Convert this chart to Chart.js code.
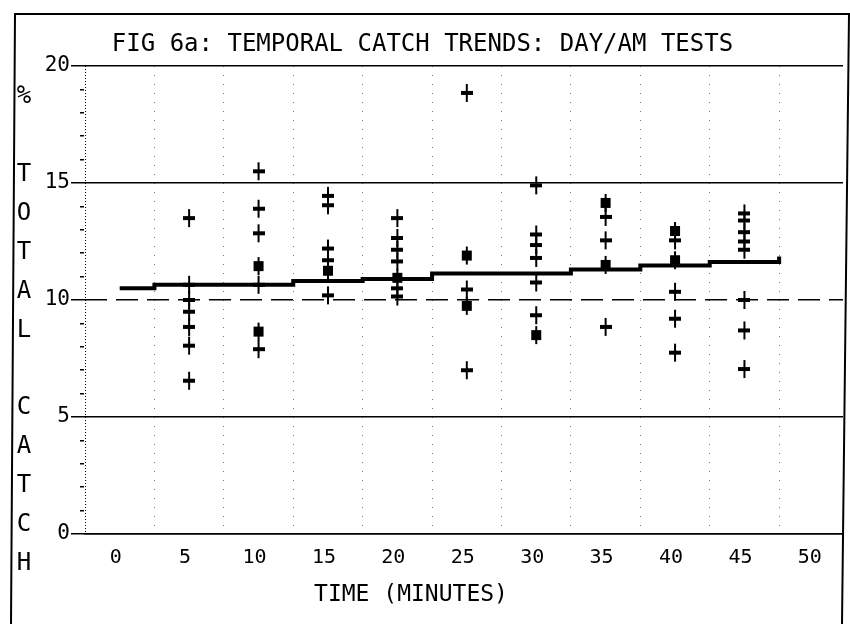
<!DOCTYPE html>
<html>
<head>
<meta charset="utf-8">
<title>Temporal catch trends</title>
<script src="https://cdn.jsdelivr.net/npm/chart.js@4/dist/chart.umd.min.js"></script>
<style>
  html, body { margin: 0; padding: 0; background: #fff; }
</style>
</head>
<body>
<canvas id="catch-graphic" width="850" height="624"></canvas>
<script>
// Time of each test group (minutes)
const times = [5, 10, 15, 20, 25, 30, 35, 40, 45];

// Single catches, one list per time
const plusCatch = [
  [13.5, 10.65, 10.0, 9.5, 8.85, 8.05, 6.55],
  [15.5, 13.9, 12.85, 10.65, 7.9],
  [14.45, 14.05, 12.2, 11.7, 10.2],
  [13.5, 12.65, 12.15, 11.65, 10.5, 10.15],
  [18.85, 10.45, 7.0],
  [14.9, 12.8, 12.35, 11.8, 10.75, 9.35],
  [13.55, 12.55, 8.85],
  [12.55, 10.35, 9.2, 7.75],
  [13.7, 13.4, 12.9, 12.5, 12.15, 10.0, 8.7, 7.05]
];

// Overlapping catches (drawn as filled blocks)
const blockCatch = [
  [],
  [11.45, 8.65],
  [11.25],
  [10.95],
  [11.9, 9.75],
  [8.5],
  [14.15, 11.5],
  [12.95, 11.7],
  []
];

// Stepped trend line
const trendTimes = [0, 5, 10, 15, 20, 25, 30, 35, 40, 45, 47.5, 47.5];
const trendCatch = [10.5, 10.65, 10.65, 10.81, 10.9, 11.13, 11.13, 11.3, 11.47, 11.62, 11.62, 11.86];

// Axis ticks
const xTicks = [0, 5, 10, 15, 20, 25, 30, 35, 40, 45, 50];
const yTicks = [0, 1, 2, 3, 4, 5, 6, 7, 8, 9, 10, 11, 12, 13, 14, 15, 16, 17, 18, 19, 20];

const FONT = 'DejaVu Sans Mono';
Chart.defaults.font.family = FONT;
Chart.defaults.color = '#000';

// Plotter style marks: tall cross, and block with the same vertical arm
function makeMark(block) {
  const c = document.createElement('canvas');
  c.width = 12;
  c.height = 20;
  const g = c.getContext('2d');
  g.fillStyle = '#000';
  g.fillRect(5, 1, 2, 18);
  if (block) {
    g.fillRect(1, 5, 10, 10);
  } else {
    g.fillRect(0, 8, 12, 4);
  }
  return c;
}

const plusPoints = [];
const blockPoints = [];
times.forEach((t, i) => {
  plusCatch[i].forEach(v => plusPoints.push({ x: t, y: v }));
  blockCatch[i].forEach(v => blockPoints.push({ x: t, y: v }));
});
const trendPoints = trendTimes.map((t, i) => ({ x: t, y: trendCatch[i] }));

// Frame of the old plot + stacked axis lettering
const framePlugin = {
  id: 'frame',
  afterDraw(chart) {
    const ctx = chart.ctx;
    ctx.save();
    ctx.strokeStyle = '#000';
    ctx.lineWidth = 2;
    ctx.beginPath();
    ctx.moveTo(11, 624);
    ctx.lineTo(15, 14);
    ctx.lineTo(850, 14);
    ctx.moveTo(849, 14);
    ctx.lineTo(842, 624);
    ctx.stroke();

    ctx.fillStyle = '#000';
    ctx.font = '24px "' + FONT + '"';
    ctx.textAlign = 'center';
    ctx.textBaseline = 'middle';
    const letters = '% TOTAL CATCH';
    for (let i = 0; i < letters.length; i++) {
      ctx.fillText(letters[i], 24, 97 + i * 38.9);
    }
    ctx.font = '23px "' + FONT + '"';
    ctx.fillText('TIME (MINUTES)', 411, 595);
    ctx.restore();
  }
};

new Chart(document.querySelector('#catch-graphic'), {
  type: 'scatter',
  data: {
    datasets: [
      {
        label: 'Trend',
        data: trendPoints,
        showLine: true,
        stepped: 'middle',
        borderColor: '#000',
        borderWidth: 4,
        pointRadius: 0
      },
      {
        label: 'Catch',
        data: plusPoints,
        pointStyle: makeMark(false),
        pointRadius: 6
      },
      {
        label: 'Overlap',
        data: blockPoints,
        pointStyle: makeMark(true),
        pointRadius: 6
      }
    ]
  },
  options: {
    responsive: false,
    animation: false,
    events: [],
    layout: { padding: { left: 0, right: 5, top: 0, bottom: 0 } },
    plugins: {
      legend: { display: false },
      tooltip: { enabled: false },
      title: {
        display: true,
        text: 'FIG 6a: TEMPORAL CATCH TRENDS: DAY/AM TESTS',
        color: '#000',
        font: { family: FONT, size: 24, weight: 'normal' },
        padding: { top: 30, bottom: 7.2 }
      }
    },
    scales: {
      x: {
        type: 'linear',
        min: -2.5,
        max: 52.1,
        afterBuildTicks: s => { s.ticks = xTicks.map(v => ({ value: v })); },
        afterFit: s => { s.height = 90; },
        ticks: {
          color: '#000',
          font: { size: 20 },
          padding: 12,
          labelOffset: -4,
          autoSkip: false,
          maxRotation: 0
        },
        grid: {
          offset: true,
          drawTicks: false,
          lineWidth: 1,
          color: c => (c.index === 0 ? '#000' : '#777')
        },
        border: {
          display: true,
          color: '#000',
          width: 1.5,
          dash: c => (c.index === 0 ? [1, 2] : [1, 8])
        }
      },
      y: {
        min: 0,
        max: 20,
        afterBuildTicks: s => { s.ticks = yTicks.map(v => ({ value: v })); },
        afterFit: s => { s.width = 85; },
        ticks: {
          color: '#000',
          font: { size: 21 },
          padding: 1,
          autoSkip: false,
          callback: v => (v % 5 === 0 ? String(v) : '')
        },
        grid: {
          lineWidth: 1.5,
          tickLength: 14,
          tickWidth: 1.5,
          tickColor: '#000',
          color: c => (c.tick && c.tick.value % 5 === 0 ? '#000' : 'rgba(0,0,0,0)'),
          tickBorderDash: c => (c.tick && c.tick.value % 5 === 0 ? [] : [0, 9, 4, 40])
        },
        border: {
          display: false,
          dash: c => (c.tick && c.tick.value === 10 ? [22, 9] : [])
        }
      }
    }
  },
  plugins: [framePlugin]
});
</script>
</body>
</html>
